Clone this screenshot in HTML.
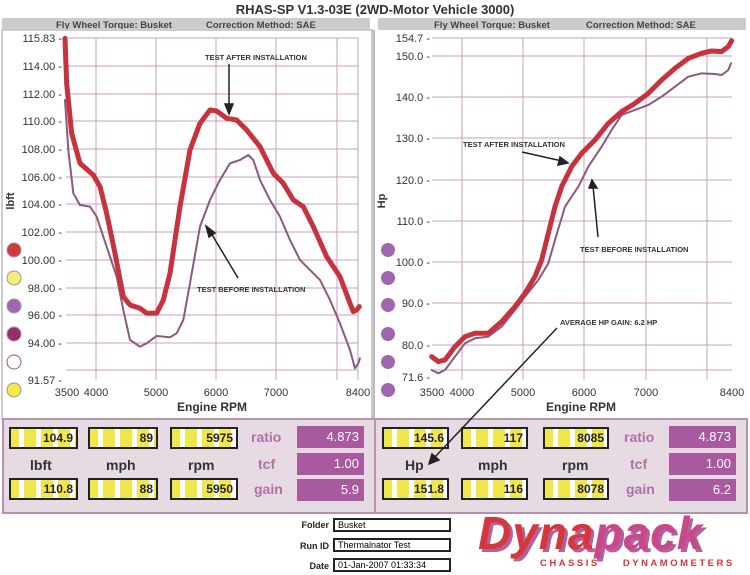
<!DOCTYPE html>
<html><head><meta charset="utf-8"><style>
*{margin:0;padding:0;box-sizing:border-box}
body{width:750px;height:575px;background:#fff;position:relative;overflow:hidden;font-family:"Liberation Sans",sans-serif}
.a{position:absolute}
.yb{position:absolute;height:22px;border:2px solid #222;background:repeating-linear-gradient(90deg,#f0e84a 0 8px,#fff 8px 13px,#f0e84a 13px 17px);font:bold 12px "Liberation Sans",sans-serif;color:#222;text-align:right;padding-right:3px;line-height:19px}
.pb{position:absolute;height:22px;width:67px;background:#a9599f;color:#fff;font:13px "Liberation Sans",sans-serif;text-align:right;padding-right:5px;line-height:22px}
.pl{position:absolute;color:#b070a8;font:bold 14px "Liberation Sans",sans-serif}
.lb{position:absolute;color:#333;font:bold 14px "Liberation Sans",sans-serif}
.fl{position:absolute;font:bold 9px "Liberation Sans",sans-serif;color:#222;text-align:right;width:60px}
.fb{position:absolute;left:333px;width:118px;height:14px;border:2px solid #222;font:9px "Liberation Sans",sans-serif;padding-left:3px;line-height:10px;background:#fff}
</style></head><body>
<svg class="a" style="left:0;top:0" width="750" height="420" font-family="Liberation Sans, sans-serif">
<text x="375" y="14" text-anchor="middle" font-size="13" font-weight="bold" fill="#333">RHAS-SP V1.3-03E (2WD-Motor Vehicle 3000)</text>
<rect x="2" y="18" width="368" height="12" fill="#ccc"/>
<rect x="378" y="18" width="368" height="12" fill="#ccc"/>
<text x="56" y="28" font-size="9.5" font-weight="bold" fill="#444">Fly Wheel Torque: Busket</text>
<text x="206" y="28" font-size="9.5" font-weight="bold" fill="#444">Correction Method: SAE</text>
<text x="434" y="28" font-size="9.5" font-weight="bold" fill="#444">Fly Wheel Torque: Busket</text>
<text x="586" y="28" font-size="9.5" font-weight="bold" fill="#444">Correction Method: SAE</text>
<rect x="2" y="30" width="370" height="389" fill="none" stroke="#ccc" stroke-width="2"/>
<line x1="374" y1="30" x2="374" y2="419" stroke="#bbb" stroke-width="2"/>
<g stroke="#c9a0bb" stroke-width="1">
<line x1="66" y1="38" x2="358" y2="38"/><line x1="66" y1="66" x2="358" y2="66"/><line x1="66" y1="94" x2="358" y2="94"/><line x1="66" y1="121" x2="358" y2="121"/><line x1="66" y1="149" x2="358" y2="149"/><line x1="66" y1="177" x2="358" y2="177"/><line x1="66" y1="204" x2="358" y2="204"/><line x1="66" y1="232" x2="358" y2="232"/><line x1="66" y1="260" x2="358" y2="260"/><line x1="66" y1="288" x2="358" y2="288"/><line x1="66" y1="315" x2="358" y2="315"/><line x1="66" y1="343" x2="358" y2="343"/><line x1="66" y1="370" x2="358" y2="370"/>
<line x1="96" y1="38" x2="96" y2="380"/><line x1="156" y1="38" x2="156" y2="380"/><line x1="216" y1="38" x2="216" y2="380"/><line x1="276" y1="38" x2="276" y2="380"/><line x1="337" y1="38" x2="337" y2="380"/><line x1="358" y1="38" x2="358" y2="380"/>
</g>
<g font-size="11" fill="#333" text-anchor="end">
<text x="62" y="42">115.83 -</text><text x="62" y="70">114.00 -</text><text x="62" y="98">112.00 -</text><text x="62" y="125">110.00 -</text><text x="62" y="153">108.00 -</text><text x="62" y="181">106.00 -</text><text x="62" y="208">104.00 -</text><text x="62" y="236">102.00 -</text><text x="62" y="264">100.00 -</text><text x="62" y="292">98.00 -</text><text x="62" y="319">96.00 -</text><text x="62" y="347">94.00 -</text><text x="62" y="384">91.57 -</text>
</g>
<g font-size="11" fill="#333" text-anchor="middle">
<text x="67" y="396">3500</text><text x="96" y="396">4000</text><text x="156" y="396">5000</text><text x="216" y="396">6000</text><text x="276" y="396">7000</text><text x="358" y="396">8400</text>
</g>
<text x="212" y="411" font-size="12" font-weight="bold" fill="#333" text-anchor="middle">Engine RPM</text>
<text x="18" y="205" font-size="11" font-weight="bold" fill="#333" transform="rotate(-90 14 205)" text-anchor="middle">lbft</text>
<g transform="scale(0.3333)" fill="none" stroke-linejoin="round" stroke-linecap="round">
<path stroke="#8a5a7e" stroke-width="6" d="M195,300 L205,450 L220,580 L240,615 L270,620 L290,650 L320,740 L350,830 L370,930 L390,1020 L420,1040 L440,1030 L470,1008 L510,1012 L530,1000 L550,960 L570,850 L600,680 L630,600 L660,540 L690,490 L720,480 L745,465 L760,480 L780,540 L810,600 L840,650 L870,720 L900,780 L930,810 L960,840 L990,900 L1020,970 L1050,1050 L1065,1105 L1075,1090 L1080,1075"/>
<path stroke="#c8323c" stroke-width="15" d="M195,115 L200,250 L215,400 L240,490 L280,525 L300,560 L320,640 L345,760 L370,890 L390,915 L420,925 L440,940 L470,940 L490,900 L510,820 L540,620 L570,450 L600,370 L630,330 L650,333 L680,355 L710,360 L740,390 L780,440 L820,520 L850,550 L880,600 L910,620 L940,680 L980,770 L1020,830 L1050,910 L1060,935 L1070,930 L1078,920"/>
</g>
<g font-size="7.5" font-weight="bold" fill="#333">
<text x="205" y="60">TEST AFTER INSTALLATION</text>
<text x="197" y="292">TEST BEFORE INSTALLATION</text>
</g>
<g stroke="#222" stroke-width="1.5" fill="#222">
<line x1="229" y1="64" x2="229" y2="108"/><polygon points="225,104 233,104 229,114"/>
<line x1="238" y1="278" x2="211" y2="233"/><polygon points="206,226 215,233 209,237"/>
</g>
<g stroke="#999" stroke-width="1">
<circle cx="14" cy="250" r="7" fill="#d23a3a"/><circle cx="14" cy="278" r="7" fill="#f4ee78"/><circle cx="14" cy="306" r="7" fill="#a066b0"/><circle cx="14" cy="334" r="7" fill="#9a2c6a"/><circle cx="14" cy="362" r="7" fill="#fff" stroke="#8a5a7e"/><circle cx="14" cy="390" r="7" fill="#f4e84a"/>
</g>
<g stroke="#c9a0bb" stroke-width="1">
<line x1="432" y1="38" x2="732" y2="38"/><line x1="432" y1="56" x2="732" y2="56"/><line x1="432" y1="97" x2="732" y2="97"/><line x1="432" y1="138" x2="732" y2="138"/><line x1="432" y1="180" x2="732" y2="180"/><line x1="432" y1="221" x2="732" y2="221"/><line x1="432" y1="262" x2="732" y2="262"/><line x1="432" y1="303" x2="732" y2="303"/><line x1="432" y1="345" x2="732" y2="345"/><line x1="432" y1="370" x2="732" y2="370"/>
<line x1="462" y1="38" x2="462" y2="380"/><line x1="523" y1="38" x2="523" y2="380"/><line x1="584" y1="38" x2="584" y2="380"/><line x1="646" y1="38" x2="646" y2="380"/><line x1="707" y1="38" x2="707" y2="380"/>
</g>
<g font-size="11" fill="#333" text-anchor="end">
<text x="430" y="42">154.7 -</text><text x="430" y="60">150.0 -</text><text x="430" y="101">140.0 -</text><text x="430" y="142">130.0 -</text><text x="430" y="184">120.0 -</text><text x="430" y="225">110.0 -</text><text x="430" y="266">100.0 -</text><text x="430" y="307">90.0 -</text><text x="430" y="349">80.0 -</text><text x="430" y="381">71.6 -</text>
</g>
<g font-size="11" fill="#333" text-anchor="middle">
<text x="432" y="396">3500</text><text x="462" y="396">4000</text><text x="523" y="396">5000</text><text x="584" y="396">6000</text><text x="646" y="396">7000</text><text x="732" y="396">8400</text>
</g>
<text x="581" y="411" font-size="12" font-weight="bold" fill="#333" text-anchor="middle">Engine RPM</text>
<text x="389" y="205" font-size="11" font-weight="bold" fill="#333" transform="rotate(-90 385 205)" text-anchor="middle">Hp</text>
<g transform="translate(375,0) scale(0.3333)" fill="none" stroke-linejoin="round" stroke-linecap="round">
<path stroke="#8a5a7e" stroke-width="6" d="M170,1110 L190,1120 L210,1110 L240,1070 L270,1030 L300,1015 L340,1010 L380,980 L420,930 L450,890 L490,840 L520,790 L540,720 L570,620 L610,560 L640,500 L680,440 L710,390 L740,345 L780,330 L820,315 L860,290 L900,260 L940,230 L980,220 L1020,222 L1040,225 L1060,210 L1068,190"/>
<path stroke="#c8323c" stroke-width="15" d="M170,1070 L190,1085 L210,1080 L240,1040 L270,1010 L300,1000 L340,1000 L380,965 L420,920 L450,880 L480,830 L500,780 L520,700 L540,620 L560,560 L590,500 L620,460 L660,420 L700,370 L740,335 L780,310 L820,280 L860,240 L900,205 L940,175 L980,160 L1010,153 L1040,155 L1060,140 L1070,122"/>
</g>
<g font-size="7.5" font-weight="bold" fill="#333">
<text x="463" y="147">TEST AFTER INSTALLATION</text>
<text x="580" y="252">TEST BEFORE INSTALLATION</text>
<text x="560" y="325">AVERAGE HP GAIN: 6.2 HP</text>
</g>
<g stroke="#222" stroke-width="1.5" fill="#222">
<line x1="522" y1="152" x2="562" y2="161"/><polygon points="568,163 560,157 558,165"/>
<line x1="598" y1="237" x2="593" y2="186"/><polygon points="592,180 589,188 597,188"/>
</g>
<g fill="#a066b0">
<circle cx="388" cy="250" r="7"/><circle cx="388" cy="278" r="7"/><circle cx="388" cy="305" r="7"/><circle cx="388" cy="334" r="7"/><circle cx="388" cy="362" r="7"/><circle cx="388" cy="390" r="7"/>
</g>
</svg>
<div class="a" style="left:2px;top:418px;width:746px;height:96px;background:#e6dbe3;border:2px solid #b890b0"></div>
<div class="a" style="left:374px;top:418px;width:2px;height:96px;background:#b890b0"></div>
<div class="yb" style="left:9px;top:427px;width:69px">104.9</div>
<div class="yb" style="left:88px;top:427px;width:70px">89</div>
<div class="yb" style="left:170px;top:427px;width:68px">5975</div>
<div class="yb" style="left:9px;top:478px;width:69px">110.8</div>
<div class="yb" style="left:88px;top:478px;width:70px">88</div>
<div class="yb" style="left:170px;top:478px;width:68px">5950</div>
<div class="lb" style="left:30px;top:457px">lbft</div>
<div class="lb" style="left:106px;top:457px">mph</div>
<div class="lb" style="left:188px;top:457px">rpm</div>
<div class="pl" style="left:251px;top:429px">ratio</div>
<div class="pl" style="left:258px;top:456px">tcf</div>
<div class="pl" style="left:254px;top:481px">gain</div>
<div class="pb" style="left:297px;top:426px">4.873</div>
<div class="pb" style="left:297px;top:453px">1.00</div>
<div class="pb" style="left:297px;top:479px">5.9</div>
<div class="yb" style="left:382px;top:427px;width:67px">145.6</div>
<div class="yb" style="left:461px;top:427px;width:67px">117</div>
<div class="yb" style="left:543px;top:427px;width:66px">8085</div>
<div class="yb" style="left:382px;top:478px;width:67px">151.8</div>
<div class="yb" style="left:461px;top:478px;width:67px">116</div>
<div class="yb" style="left:543px;top:478px;width:66px">8078</div>
<div class="lb" style="left:405px;top:457px">Hp</div>
<div class="lb" style="left:478px;top:457px">mph</div>
<div class="lb" style="left:562px;top:457px">rpm</div>
<div class="pl" style="left:624px;top:429px">ratio</div>
<div class="pl" style="left:630px;top:456px">tcf</div>
<div class="pl" style="left:626px;top:481px">gain</div>
<div class="pb" style="left:669px;top:426px">4.873</div>
<div class="pb" style="left:669px;top:453px">1.00</div>
<div class="pb" style="left:669px;top:479px">6.2</div>
<svg class="a" style="left:0;top:0" width="750" height="575"><g stroke="#222" stroke-width="1.5" fill="#222"><line x1="557" y1="328" x2="434" y2="458"/><polygon points="429,464 432,454 439,460"/></g></svg>
<div class="fl" style="left:269px;top:520px">Folder</div>
<div class="fl" style="left:269px;top:541px">Run ID</div>
<div class="fl" style="left:269px;top:561px">Date</div>
<div class="fb" style="top:518px">Busket</div>
<div class="fb" style="top:538px">Thermalnator Test</div>
<div class="fb" style="top:558px">01-Jan-2007 01:33:34</div>
<div class="a" style="left:478px;top:510px;font:italic bold 46px 'Liberation Sans',sans-serif;color:#d8363a;letter-spacing:1px;text-shadow:3px 3px 0 #b0619f;line-height:46px">Dyna<span style="color:#c8488a">pack</span></div>
<div class="a" style="left:540px;top:558px;font:bold 9.5px 'Liberation Sans',sans-serif;color:#d8363a;letter-spacing:2.5px;word-spacing:18px">CHASSIS DYNAMOMETERS</div>
</body></html>
